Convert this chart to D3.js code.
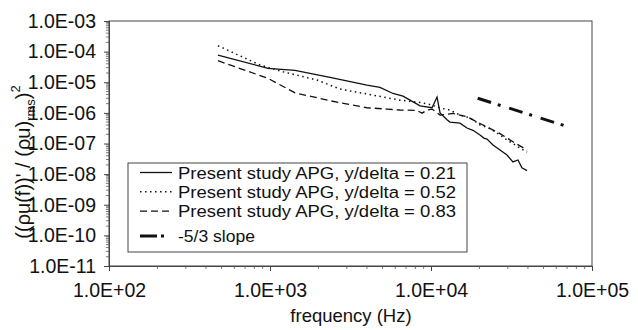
<!DOCTYPE html>
<html><head><meta charset="utf-8">
<script src="https://cdn.jsdelivr.net/npm/d3@7"></script>
<style>body{margin:0;background:#fff}svg{display:block}text{font-family:"Liberation Sans",Arial,sans-serif;fill:#111}</style>
</head><body><svg id="c" width="638" height="330"></svg>
<script>
// ---- data ----
const solidFreq = [475, 972, 1430, 2360, 4000, 4820, 5810, 6700, 7410, 8550, 10150, 10900, 11380, 12570, 13120, 15140, 16740, 18230, 20150, 21300, 22280, 24270, 26840, 29650, 32300, 34700, 36700, 39500];
const solidVal  = [7.7e-5, 2.84e-5, 2.45e-5, 1.45e-5, 8.1e-6, 6.8e-6, 4.3e-6, 3.5e-6, 2.6e-6, 1.7e-6, 1.47e-6, 3.3e-6, 1.0e-6, 6.0e-7, 5.0e-7, 4.6e-7, 3.2e-7, 2.7e-7, 1.9e-7, 1.5e-7, 1.4e-7, 8.9e-8, 6.1e-8, 4.2e-8, 2.5e-8, 2.9e-8, 1.6e-8, 1.3e-8];
const dottedFreq = [475, 867, 1205, 1959, 2720, 4365, 6410, 8550, 10150, 11380, 13120, 15140, 16740, 18230, 20150, 22280, 24270, 26840, 29650, 32300, 35700, 39500];
const dottedVal  = [1.56e-4, 3.65e-5, 2.2e-5, 1.18e-5, 6.0e-6, 3.8e-6, 2.6e-6, 2.2e-6, 1.8e-6, 1.44e-6, 1.24e-6, 8.5e-7, 7.3e-7, 6.0e-7, 4.0e-7, 3.4e-7, 2.7e-7, 1.9e-7, 1.3e-7, 1.0e-7, 7.1e-8, 5.2e-8];
const dashedFreq = [475, 972, 1430, 2400, 4000, 5330, 6410, 8190, 8800, 9450, 10150, 11380, 13700, 16740, 20150, 26840, 32300, 39500];
const dashedVal  = [5.05e-5, 1.34e-5, 4.5e-6, 2.45e-6, 1.47e-6, 1.33e-6, 1.24e-6, 1.2e-6, 9.8e-7, 1.24e-6, 1.33e-6, 8.5e-7, 9.6e-7, 7.5e-7, 4.5e-7, 2.1e-7, 1.14e-7, 6.1e-8];
const slopeFreq = [19500, 70000];
const slopeVal  = [3.0e-6, 3.6e-7];
const xTickVals = [1e2, 1e3, 1e4, 1e5];
const xTickLabels = ["1.0E+02", "1.0E+03", "1.0E+04", "1.0E+05"];
const yTickVals = [1e-3, 1e-4, 1e-5, 1e-6, 1e-7, 1e-8, 1e-9, 1e-10, 1e-11];
const yTickLabels = ["1.0E-03", "1.0E-04", "1.0E-05", "1.0E-06", "1.0E-07", "1.0E-08", "1.0E-09", "1.0E-10", "1.0E-11"];
const seriesNames = ["Present study APG, y/delta = 0.21", "Present study APG, y/delta = 0.52", "Present study APG, y/delta = 0.83", "-5/3 slope"];

// ---- layout ----
const svg = d3.select("#c");
const L = 109, T = 21, R = 592, B = 266;
const x = d3.scaleLog().domain([1e2, 1e5]).range([L, R]);
const y = d3.scaleLog().domain([1e-11, 1e-3]).range([B, T]);

// frame
svg.append("rect").attr("x", L).attr("y", T).attr("width", R - L).attr("height", B - T)
  .attr("fill", "none").attr("stroke", "#444").attr("stroke-width", 1);

// minor ticks
const xMinor = [];
for (let d = 2; d < 5; d++) for (let k = 2; k < 10; k++) xMinor.push(k * Math.pow(10, d));
const yMinor = [];
for (let d = -11; d < -3; d++) for (let k = 2; k < 10; k++) yMinor.push(k * Math.pow(10, d));

const xAxis = d3.axisBottom(x).tickValues(xTickVals).tickFormat((d, i) => xTickLabels[i]).tickSize(5).tickPadding(12);
const gx = svg.append("g").attr("transform", `translate(0,${B})`).call(xAxis);
gx.selectAll(".domain").attr("stroke", "#444");
gx.selectAll("text").attr("font-size", 19.5).attr("fill", "#111");
gx.selectAll(".tick line").attr("stroke", "#444");
svg.append("g").selectAll("line").data(xMinor).join("line")
  .attr("x1", d => x(d)).attr("x2", d => x(d)).attr("y1", B).attr("y2", B + 3)
  .attr("stroke", "#555").attr("stroke-width", 0.8);

const yAxis = d3.axisLeft(y).tickValues(yTickVals).tickFormat((d, i) => yTickLabels[i]).tickSize(5).tickPadding(8);
const gy = svg.append("g").attr("transform", `translate(${L},0)`).call(yAxis);
gy.selectAll(".domain").attr("stroke", "#444");
gy.selectAll("text").attr("font-size", 19.5).attr("fill", "#111");
gy.selectAll(".tick line").attr("stroke", "#444");
svg.append("g").selectAll("line").data(yMinor).join("line")
  .attr("y1", d => y(d)).attr("y2", d => y(d)).attr("x1", L - 3).attr("x2", L)
  .attr("stroke", "#555").attr("stroke-width", 0.8);

// series
const line = d3.line().x(d => x(d[0])).y(d => y(d[1]));
const zip = (a, b) => a.map((v, i) => [v, b[i]]);
const styles = [
  {dash: null, w: 1.3},
  {dash: "1.5,3.5", w: 1.5},
  {dash: "7,4", w: 1.3},
  {dash: "14,7,3,9", w: 3}
];
const data = [zip(solidFreq, solidVal), zip(dottedFreq, dottedVal), zip(dashedFreq, dashedVal), zip(slopeFreq, slopeVal)];
data.forEach((d, i) => {
  svg.append("path").datum(d).attr("d", line).attr("fill", "none")
    .attr("stroke", "#111").attr("stroke-width", styles[i].w)
    .attr("stroke-dasharray", styles[i].dash);
});

// legend
const lg = svg.append("g");
lg.append("rect").attr("x", 128).attr("y", 163).attr("width", 339).attr("height", 89)
  .attr("fill", "#fff").attr("stroke", "#444").attr("stroke-width", 1);
const rowY = [172.5, 191.8, 211.1, 236];
seriesNames.forEach((n, i) => {
  lg.append("line").attr("x1", 140).attr("x2", 172).attr("y1", rowY[i]).attr("y2", rowY[i])
    .attr("stroke", "#111").attr("stroke-width", styles[i].w)
    .attr("stroke-dasharray", i === 3 ? "17,4,3,20" : styles[i].dash);
  const t = lg.append("text").attr("x", 178).attr("y", rowY[i] + 6.2).attr("font-size", 17.2).text(n);
  if (i < 3) t.attr("textLength", 278).attr("lengthAdjust", "spacingAndGlyphs");
  else t.attr("textLength", 77).attr("lengthAdjust", "spacingAndGlyphs");
});

// axis titles
svg.append("text").attr("x", 351).attr("y", 322).attr("text-anchor", "middle").attr("font-size", 18.5).text("frequency (Hz)");
const yt = svg.append("text").attr("transform", "translate(30,162) rotate(-90)").attr("text-anchor", "middle").attr("font-size", 20);
yt.append("tspan").text("((ρu(f))' / (ρu)");
yt.append("tspan").attr("font-size", 13).attr("dy", 5).text("rms");
yt.append("tspan").attr("dy", -5).text(")");
yt.append("tspan").attr("font-size", 13).attr("dy", -10).text("2");
</script></body></html>
